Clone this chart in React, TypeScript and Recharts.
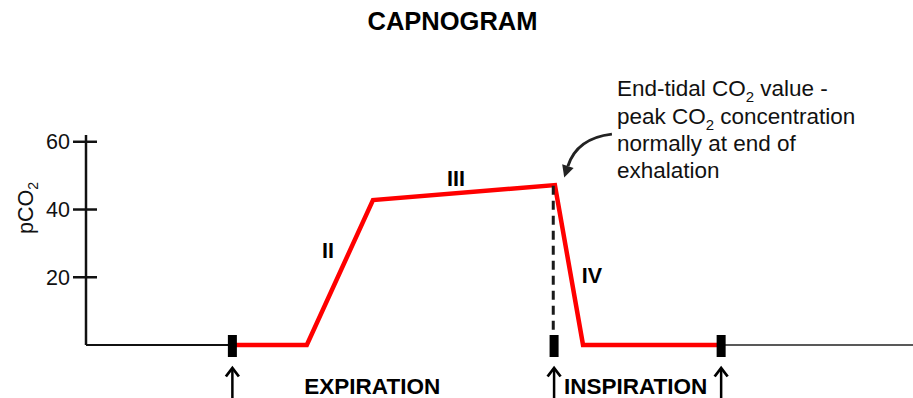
import React from "react";
import { ComposedChart, Line, Scatter, XAxis, YAxis, Customized } from "recharts";

const FONT = '"Liberation Sans", Arial, Helvetica, sans-serif';

// time axis in seconds (arbitrary), pCO2 in mmHg
const yTicks = [20, 40, 60];

const leadIn = [
  { t: 0, v: 0 },
  { t: 1.77, v: 0 },
];

const capnogram = [
  { t: 1.77, v: 0 },
  { t: 2.67, v: 0 },
  { t: 3.47, v: 42.8 },
  { t: 5.67, v: 47.2 },
  { t: 6.01, v: 0 },
  { t: 7.68, v: 0 },
];

const tail = [
  { t: 7.68, v: 0 },
  { t: 10, v: 0 },
];

const endTidalDrop = [
  { t: 5.65, v: 47 },
  { t: 5.65, v: 0 },
];

const markerTimes = [1.77, 5.66, 7.68];
const phaseNames = ["EXPIRATION", "INSPIRATION"];
const segmentNames = ["II", "III", "IV"];

const noteLines = [
  ["End-tidal CO", "2", " value -"],
  ["peak CO", "2", " concentration"],
  ["normally at end of"],
  ["exhalation"],
];

const markers = markerTimes.map((t) => ({ t, v: 0 }));

const phaseLabels = phaseNames.map((name, i) => ({
  t: (markerTimes[i] + markerTimes[i + 1]) / 2,
  v: 0,
  name,
}));

const segmentLabels = segmentNames.map((name, i) => ({
  t: (capnogram[i + 1].t + capnogram[i + 2].t) / 2,
  v: (capnogram[i + 1].v + capnogram[i + 2].v) / 2,
  name,
}));

const peak = capnogram.reduce((a, b) => (b.v > a.v ? b : a));

const segmentOffsets: Record<string, [number, number]> = {
  II: [-12, -23],
  III: [-8, -15],
  IV: [23, 10],
};

const phaseOffsets: Record<string, number> = {
  EXPIRATION: -21,
  INSPIRATION: -2,
};

const YTick = (props: any) => {
  const { x, y, payload } = props;
  return (
    <g>
      <line x1={x - 13} x2={x + 11} y1={y} y2={y} stroke="#111" strokeWidth={2.5} />
      <text
        x={x - 16}
        y={y}
        dy={7.5}
        textAnchor="end"
        fontSize={21.5}
        fontFamily={FONT}
        fill="#111"
      >
        {payload.value}
      </text>
    </g>
  );
};

const MarkerShape = (props: any) => {
  const { cx, cy } = props;
  return (
    <g>
      <rect x={cx - 4.5} y={cy - 10} width={9} height={22} fill="#000" />
      <line x1={cx} x2={cx} y1={cy + 23} y2={cy + 60} stroke="#000" strokeWidth={2.5} />
      <polyline
        points={`${cx - 6.5},${cy + 31.5} ${cx},${cy + 23} ${cx + 6.5},${cy + 31.5}`}
        fill="none"
        stroke="#000"
        strokeWidth={2.8}
      />
    </g>
  );
};

const PhaseShape = (props: any) => {
  const { cx, cy, payload } = props;
  return (
    <text
      x={cx + (phaseOffsets[payload.name] ?? 0)}
      y={cy + 49}
      textAnchor="middle"
      fontSize={22.5}
      fontWeight="bold"
      fontFamily={FONT}
      fill="#000"
    >
      {payload.name}
    </text>
  );
};

const SegmentShape = (props: any) => {
  const { cx, cy, payload } = props;
  const [dx, dy] = segmentOffsets[payload.name] ?? [0, 0];
  return (
    <text
      x={cx + dx}
      y={cy + dy + 8}
      textAnchor="middle"
      fontSize={21.5}
      fontWeight="bold"
      fontFamily={FONT}
      fill="#000"
    >
      {payload.name}
    </text>
  );
};

const NoteShape = (props: any) => {
  const { cx, cy } = props;
  // curved arrow from the note to the peak
  const sx = cx + 57, sy = cy - 51;
  const qx = cx + 22, qy = cy - 47;
  const ex = cx + 13, ey = cy - 19;
  const len = Math.hypot(ex - qx, ey - qy);
  const ux = (ex - qx) / len, uy = (ey - qy) / len;
  const px = -uy, py = ux;
  const tipX = ex + ux * 12, tipY = ey + uy * 12;
  return (
    <g>
      <path
        d={`M ${sx} ${sy} Q ${qx} ${qy} ${ex} ${ey}`}
        fill="none"
        stroke="#222"
        strokeWidth={3}
      />
      <polygon
        points={`${tipX},${tipY} ${ex + px * 6},${ey + py * 6} ${ex - px * 6},${ey - py * 6}`}
        fill="#222"
      />
      {noteLines.map((parts, i) => (
        <text
          key={i}
          x={cx + 62}
          y={cy - 89 + i * 27.4}
          fontSize={22.5}
          fontFamily={FONT}
          fill="#111"
        >
          <tspan>{parts[0]}</tspan>
          {parts.length > 1 && (
            <>
              <tspan dy={6} fontSize={15}>{parts[1]}</tspan>
              <tspan dy={-6}>{parts[2]}</tspan>
            </>
          )}
        </text>
      ))}
    </g>
  );
};

const Title = () => (
  <text
    x={452.5}
    y={30}
    textAnchor="middle"
    fontSize={25.5}
    fontWeight="bold"
    fontFamily={FONT}
    fill="#000"
  >
    CAPNOGRAM
  </text>
);

const YLabel = (props: any) => {
  const { viewBox } = props;
  const x = viewBox.x + 33;
  const y = viewBox.y + 73;
  return (
    <text
      transform={`translate(${x},${y}) rotate(-90)`}
      textAnchor="middle"
      fontSize={21.5}
      fontFamily={FONT}
      fill="#111"
    >
      pCO<tspan dy={5} fontSize={14}>2</tspan>
    </text>
  );
};

export default function App() {
  return (
    <div style={{ position: "absolute", left: 0, top: 0, background: "#fff" }}>
      <ComposedChart
        width={913}
        height={398}
        margin={{ top: 135, right: 0, bottom: 53, left: 0 }}
      >
        <XAxis dataKey="t" type="number" domain={[0, 10]} hide />
        <YAxis
          dataKey="v"
          type="number"
          domain={[0, 62]}
          ticks={yTicks}
          width={86}
          tickSize={0}
          tickMargin={0}
          tickLine={false}
          tick={<YTick />}
          axisLine={{ stroke: "#111", strokeWidth: 2.5 }}
          label={<YLabel />}
        />
        <Line
          data={leadIn}
          dataKey="v"
          type="linear"
          stroke="#111"
          strokeWidth={2}
          dot={false}
          activeDot={false}
          isAnimationActive={false}
        />
        <Line
          data={tail}
          dataKey="v"
          type="linear"
          stroke="#222"
          strokeWidth={1.5}
          dot={false}
          activeDot={false}
          isAnimationActive={false}
        />
        <Line
          data={capnogram}
          dataKey="v"
          type="linear"
          stroke="#ff0000"
          strokeWidth={4.5}
          strokeLinejoin="miter"
          dot={false}
          activeDot={false}
          isAnimationActive={false}
        />
        <Line
          data={endTidalDrop}
          dataKey="v"
          type="linear"
          stroke="#1a1a1a"
          strokeWidth={3}
          strokeDasharray="9 6"
          dot={false}
          activeDot={false}
          isAnimationActive={false}
        />
        <Scatter data={markers} shape={<MarkerShape />} isAnimationActive={false} />
        <Scatter data={phaseLabels} shape={<PhaseShape />} isAnimationActive={false} />
        <Scatter data={segmentLabels} shape={<SegmentShape />} isAnimationActive={false} />
        <Scatter data={[peak]} shape={<NoteShape />} isAnimationActive={false} />
        <Customized component={<Title />} />
      </ComposedChart>
    </div>
  );
}
